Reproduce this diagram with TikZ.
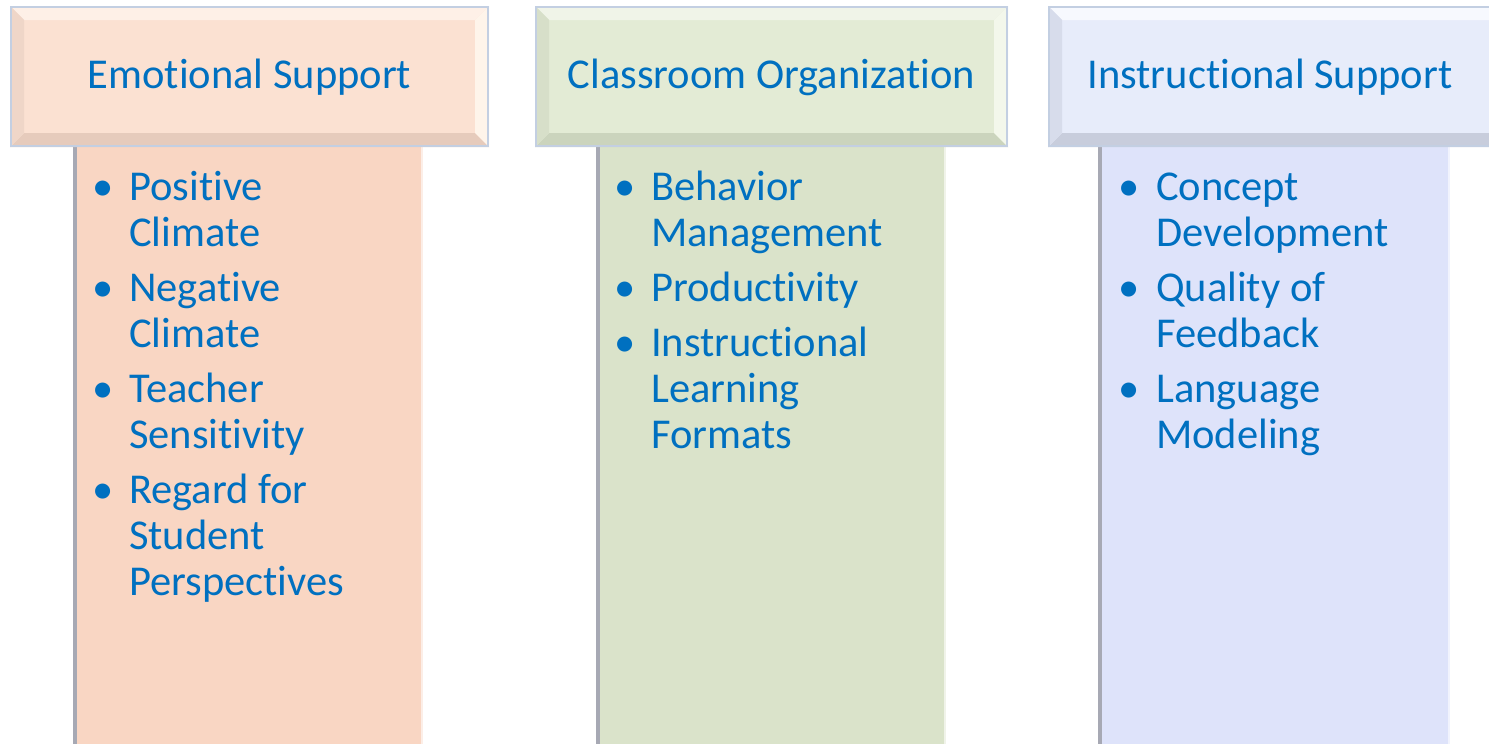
\documentclass[tikz,border=0pt]{standalone}
\usepackage{fontspec}
\setmainfont{Carlito}[RawFeature={-liga;-clig;-dlig;-calt;-rlig;-hlig}]
\definecolor{txt}{HTML}{0070C0}
\definecolor{hborder}{HTML}{C3CFE2}
\definecolor{shadowgray}{HTML}{A7A9B4}
% peach
\definecolor{pchface}{HTML}{FBE1D2}
\definecolor{pchtop}{HTML}{FEF0E7}
\definecolor{pchbot}{HTML}{E6CBBC}
\definecolor{pchleft}{HTML}{EFD6C8}
\definecolor{pchright}{HTML}{FEF4EA}
\definecolor{pchbody}{HTML}{F9D6C3}
% green
\definecolor{grnface}{HTML}{E3EBD5}
\definecolor{grntop}{HTML}{F0F4E8}
\definecolor{grnbot}{HTML}{CBD4BD}
\definecolor{grnleft}{HTML}{D7DFC9}
\definecolor{grnright}{HTML}{F3F7EB}
\definecolor{grnbody}{HTML}{DAE3CA}
% blue
\definecolor{bluface}{HTML}{E7ECFA}
\definecolor{blutop}{HTML}{F7F9FE}
\definecolor{blubot}{HTML}{C8CDDC}
\definecolor{bluleft}{HTML}{D7DCEB}
\definecolor{bluright}{HTML}{F4F6FE}
\definecolor{blubody}{HTML}{DEE3FA}
\newcommand\mkbody[3]{%
  \fill[#3body] (#1,146) rectangle (#2,750);
  \fill[shadowgray] (#1,146) rectangle (#1+3.5,750);
  \fill[white,opacity=0.6] (#2-2,146) rectangle (#2,750);
}
\newcommand\mkhead[3]{%
  \fill[#3face] (#1,6) rectangle (#2,147);
  \fill[#3top] (#1,6) -- (#2,6) -- (#2-14,20) -- (#1+14,20) -- cycle;
  \fill[#3bot] (#1,147) -- (#2,147) -- (#2-14,133) -- (#1+14,133) -- cycle;
  \fill[#3left] (#1,6) -- (#1+14,20) -- (#1+14,133) -- (#1,147) -- cycle;
  \fill[#3right] (#2,6) -- (#2-14,20) -- (#2-14,133) -- (#2,147) -- cycle;
  \draw[hborder, line width=2] (#1+1,7) rectangle (#2-1,146);
}
\begin{document}
\begin{tikzpicture}[x=1pt,y=-1pt,
  htext/.style={anchor=base, text=txt, inner sep=0, font=\fontsize{42.5}{50}\selectfont},
  item/.style={anchor=base west, text=txt, inner sep=0, font=\fontsize{42.5}{50}\selectfont},
  bul/.style={anchor=base, text=txt, inner sep=0, font=\fontsize{42.5}{50}\selectfont}]
\useasboundingbox (0,0) rectangle (1489,744);
\clip (0,0) rectangle (1489,744);
\fill[white] (0,0) rectangle (1489,744);
% bodies
\mkbody{73}{423}{pch}
\mkbody{596}{946}{grn}
\mkbody{1098}{1450}{blu}
% headers
\mkhead{10}{489}{pch}
\mkhead{535}{1008}{grn}
\mkhead{1048}{1527}{blu}
% header texts
\node[htext] (h1) at (249.5,88) {Emotional Support};
\node[htext] (h2) at (771.5,88) {Classroom Organization};
\node[htext] (h3) at (1270,88) {Instructional Support};
% column 1
\node[bul] (b1a) at (103,200) {•};
\node[item] (t1a1) at (129,200) {Positive};
\node[item] (t1a2) at (129,246) {Climate};
\node[bul] (b1b) at (103,301) {•};
\node[item] (t1b1) at (129,301) {Negative};
\node[item] (t1b2) at (129,347) {Climate};
\node[bul] (b1c) at (103,402) {•};
\node[item] (t1c1) at (129,402) {Teacher};
\node[item] (t1c2) at (129,448) {Sensitivity};
\node[bul] (b1d) at (103,503) {•};
\node[item] (t1d1) at (129,503) {Regard for};
\node[item] (t1d2) at (129,549) {Student};
\node[item] (t1d3) at (129,595) {Perspectives};
% column 2
\node[bul] (b2a) at (625,200) {•};
\node[item] (t2a1) at (651,200) {Behavior};
\node[item] (t2a2) at (651,246) {Management};
\node[bul] (b2b) at (625,301) {•};
\node[item] (t2b1) at (651,301) {Productivity};
\node[bul] (b2c) at (625,356) {•};
\node[item] (t2c1) at (651,356) {Instructional};
\node[item] (t2c2) at (651,402) {Learning};
\node[item] (t2c3) at (651,448) {Formats};
% column 3
\node[bul] (b3a) at (1129,200) {•};
\node[item] (t3a1) at (1156,200) {Concept};
\node[item] (t3a2) at (1156,246) {Development};
\node[bul] (b3b) at (1129,301) {•};
\node[item] (t3b1) at (1156,301) {Quality of};
\node[item] (t3b2) at (1156,347) {Feedback};
\node[bul] (b3c) at (1129,402) {•};
\node[item] (t3c1) at (1156,402) {Language};
\node[item] (t3c2) at (1156,448) {Modeling};
\end{tikzpicture}
\end{document}
